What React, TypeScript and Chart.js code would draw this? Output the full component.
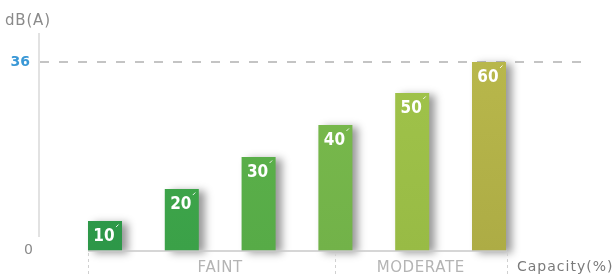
import React, { useEffect, useRef } from "react";
import { Chart, registerables } from "chart.js";

Chart.register(...registerables);

const categories = ["10", "20", "30", "40", "50", "60"];
const noiseValues = [5.7, 11.8, 17.9, 24, 30.1, 36];
const topColors = ["#30a04c", "#40a94c", "#5cb24b", "#79ba4c", "#a0c34a", "#b8b74b"];
const bottomColors = ["#2d9748", "#3ba148", "#57ab47", "#72b249", "#98bb45", "#adac45"];
const yTickValues = [0, 36];
const yAxisTitle = "dB(A)";
const xAxisTitle = "Capacity(%)";
const groupLabels = ["FAINT", "MODERATE"];

const decorPlugin = {
  id: "decor",
  beforeDatasetsDraw(chart: any) {
    const { ctx, scales } = chart;
    const y = scales.y;
    ctx.save();
    ctx.strokeStyle = "#e2e2e2";
    ctx.lineWidth = 2;
    ctx.beginPath();
    ctx.moveTo(39, 33);
    ctx.lineTo(39, y.getPixelForValue(0) - 14);
    ctx.stroke();
    const ym = y.getPixelForValue(yTickValues[1]);
    ctx.strokeStyle = "#c4c4c4";
    ctx.lineWidth = 2;
    ctx.setLineDash([9, 10]);
    ctx.beginPath();
    ctx.moveTo(40, ym);
    ctx.lineTo(590, ym);
    ctx.stroke();
    ctx.restore();
  },
  afterDatasetsDraw(chart: any) {
    const { ctx, scales } = chart;
    const x = scales.x;
    const y = scales.y;
    const meta = chart.getDatasetMeta(0);
    const first = meta.data[0];
    const last = meta.data[meta.data.length - 1];
    const firstLeft = first.x - first.width / 2;
    const lastRight = last.x + last.width / 2;
    const y0 = y.getPixelForValue(0);
    ctx.save();
    ctx.strokeStyle = "#c8c8c8";
    ctx.lineWidth = 1.5;
    ctx.beginPath();
    ctx.moveTo(firstLeft, y0);
    ctx.lineTo(lastRight + 1, y0);
    ctx.stroke();
    const mid = x.getPixelForValue(3);
    const seps = [firstLeft, mid, lastRight + 1];
    ctx.strokeStyle = "#d0d0d0";
    ctx.lineWidth = 1;
    ctx.setLineDash([3, 3]);
    seps.forEach((sx) => {
      ctx.beginPath();
      ctx.moveTo(Math.round(sx) + 0.5, y0 + 2);
      ctx.lineTo(Math.round(sx) + 0.5, 275);
      ctx.stroke();
    });
    ctx.setLineDash([]);
    ctx.textAlign = "center";
    ctx.textBaseline = "middle";
    meta.data.forEach((bar: any, i: number) => {
      ctx.fillStyle = "#ffffff";
      ctx.font = "bold 17px 'Liberation Sans Narrow', 'DejaVu Sans Condensed'";
      ctx.fillText(categories[i], bar.x - 1, bar.y + 16);
      const r = bar.x + bar.width / 2;
      ctx.strokeStyle = "rgba(255,255,255,0.9)";
      ctx.lineWidth = 1;
      ctx.beginPath();
      ctx.moveTo(r - 6, bar.y + 6);
      ctx.lineTo(r - 3.5, bar.y + 3.5);
      ctx.stroke();
    });
    ctx.font = "15px 'DejaVu Sans'";
    ctx.fillStyle = "#b4b4b4";
    (ctx as any).letterSpacing = "0.6px";
    ctx.fillText(groupLabels[0], x.getPixelForValue(1.5), 268);
    ctx.fillText(groupLabels[1], (mid + lastRight) / 2, 268);
    ctx.font = "14px 'DejaVu Sans'";
    ctx.fillStyle = "#7a7a7a";
    (ctx as any).letterSpacing = "1px";
    ctx.textAlign = "left";
    ctx.fillText(xAxisTitle, 517, 267);
    ctx.fillStyle = "#8a8a8a";
    ctx.font = "15px 'DejaVu Sans'";
    (ctx as any).letterSpacing = "0.8px";
    ctx.fillText(yAxisTitle, 5, 21);
    (ctx as any).letterSpacing = "0px";
    ctx.textAlign = "right";
    ctx.fillStyle = "#8a8a8a";
    ctx.font = "14px 'DejaVu Sans'";
    ctx.fillText(String(yTickValues[0]), 33, y0 - 1);
    ctx.fillStyle = "#3a98d6";
    ctx.font = "bold 14px 'DejaVu Sans'";
    ctx.fillText(String(yTickValues[1]), 30, y.getPixelForValue(yTickValues[1]));
    ctx.restore();
  },
  beforeDatasetDraw(chart: any) {
    const ctx = chart.ctx;
    ctx.save();
    ctx.shadowColor = "rgba(0,0,0,0.4)";
    ctx.shadowOffsetX = 6;
    ctx.shadowOffsetY = 2;
    ctx.shadowBlur = 8;
  },
  afterDatasetDraw(chart: any) {
    chart.ctx.restore();
  },
};

export default function App() {
  const ref = useRef<HTMLCanvasElement>(null);
  useEffect(() => {
    if (!ref.current) return;
    const chart = new Chart(ref.current, {
      type: "bar",
      data: {
        labels: categories,
        datasets: [
          {
            data: noiseValues,
            backgroundColor: (c: any) => {
              const area = c.chart.chartArea;
              const i = c.dataIndex;
              if (!area || i === undefined) return topColors[0];
              const el = c.chart.getDatasetMeta(0).data[i];
              const top = el && isFinite(el.y) ? el.y : area.top;
              const g = c.chart.ctx.createLinearGradient(0, top, 0, area.bottom);
              g.addColorStop(0, topColors[i]);
              g.addColorStop(1, bottomColors[i]);
              return g;
            },
            borderWidth: 0,
            categoryPercentage: 1,
            barPercentage: 0.443,
            clip: false as any,
          },
        ],
      },
      options: {
        responsive: false,
        animation: false,
        layout: { padding: { left: 66.6, right: 85.6, top: 62, bottom: 24 } },
        plugins: { legend: { display: false }, tooltip: { enabled: false } },
        scales: {
          x: { display: false },
          y: { display: false, min: yTickValues[0], max: yTickValues[1] },
        },
      },
      plugins: [decorPlugin],
    });
    return () => chart.destroy();
  }, []);
  return (
    <div style={{ position: "fixed", left: 0, top: 0, width: 613, height: 275, background: "#fff" }}>
      <canvas ref={ref} width={613} height={275} />
    </div>
  );
}
